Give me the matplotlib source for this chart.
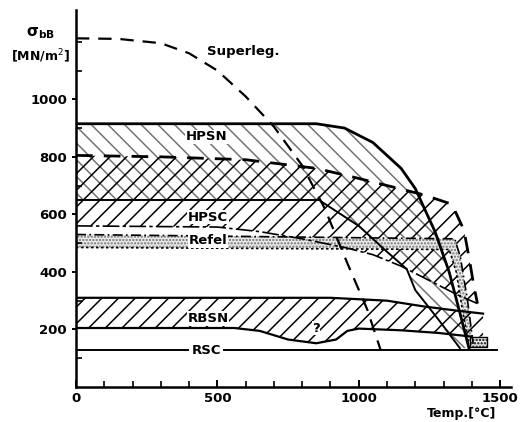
import numpy as np
import matplotlib.pyplot as plt

plt.rcParams["font.family"] = ["DejaVu Sans"]
plt.rcParams["hatch.linewidth"] = 1.1

# temperature [°C] / strength [MN/m2]
superleg_t = [0, 150, 300, 400, 500, 600, 700, 800, 880, 960, 1030, 1077]
superleg_s = [1212, 1210, 1195, 1160, 1100, 1010, 905, 770, 620, 430, 270, 130]

hpsn_top_t = [0, 850, 950, 1050, 1150, 1200, 1270, 1320, 1360, 1390]
hpsn_top_s = [915, 915, 900, 850, 760, 690, 540, 400, 250, 135]
hpsn_low_t = [0, 860, 875, 1000, 1100, 1170, 1200, 1280, 1358]
hpsn_low_s = [650, 650, 640, 560, 470, 410, 337, 237, 135]

hpsc_top_t = [0, 300, 600, 850, 1000, 1230, 1330, 1372, 1390, 1405, 1420]
hpsc_top_s = [805, 800, 790, 760, 725, 668, 635, 546, 452, 365, 290]
hpsc_low_t = [0, 500, 650, 800, 950, 1050, 1150, 1250, 1350, 1420]
hpsc_low_s = [560, 556, 540, 515, 485, 460, 420, 370, 320, 290]

refel_top_t = [0, 1340, 1360, 1385, 1405]
refel_top_s = [530, 515, 450, 300, 150]
refel_low_t = [0, 1320, 1345, 1370, 1390]
refel_low_s = [485, 478, 400, 250, 150]
refel_box_t = [1393, 1453]
refel_box_s = [139, 172]

rbsn_top_t = [0, 900, 1100, 1230, 1350, 1440]
rbsn_top_s = [310, 310, 300, 280, 265, 255]
rbsn_low_t = [0, 560, 650, 750, 850, 920, 960, 1000, 1150, 1280, 1400]
rbsn_low_s = [205, 205, 195, 165, 152, 165, 195, 203, 197, 188, 175]

rsc_t = [0, 1490]
rsc_s = [127, 127]


def band(t_top, s_top, t_low, s_low, n=300):
    t = np.linspace(min(t_top[0], t_low[0]), max(t_top[-1], t_low[-1]), n)
    top = np.interp(t, t_top, s_top)
    low = np.interp(t, t_low, s_low)
    return t, np.maximum(top, low), low


fig = plt.figure(figsize=(5.22, 4.22), dpi=100)
ax = fig.add_axes([0.1456, 0.083, 0.834, 0.893])

# HPSN band
t, top, low = band(hpsn_top_t, hpsn_top_s, hpsn_low_t, hpsn_low_s)
ax.fill_between(t, low, top, facecolor="none", edgecolor="0.45", hatch="\\\\", lw=0.001)
ax.plot(hpsn_top_t, hpsn_top_s, color="k", lw=2)
ax.plot(hpsn_low_t, hpsn_low_s, color="k", lw=1.4)

# HPSC band
t, top, low = band(hpsc_top_t, hpsc_top_s, hpsc_low_t, hpsc_low_s)
ax.fill_between(t, low, top, facecolor="none", edgecolor="k", hatch="//", lw=0.001)
ax.plot(hpsc_top_t, hpsc_top_s, color="k", lw=2, ls=(0, (6, 4)))
ax.plot(hpsc_low_t, hpsc_low_s, color="k", lw=1.2, ls=(0, (10, 2, 2, 2)))

# Refel band
poly_t = refel_top_t + refel_low_t[::-1]
poly_s = refel_top_s + refel_low_s[::-1]
ax.fill(poly_t, poly_s, facecolor="0.92", edgecolor="0.45", hatch=".....", lw=0.001)
ax.plot(refel_top_t, refel_top_s, color="k", lw=1.2, ls=(0, (6, 2, 1, 2)))
ax.plot(refel_low_t, refel_low_s, color="k", lw=1.2, ls=(0, (1.5, 1.5)))
ax.fill_between(refel_box_t, refel_box_s[0], refel_box_s[1], facecolor="0.92",
                edgecolor="k", hatch=".....", lw=1)

# RBSN band
t, top, low = band(rbsn_top_t, rbsn_top_s, rbsn_low_t, rbsn_low_s)
ax.fill_between(t, low, top, facecolor="none", edgecolor="k", hatch="//", lw=0.001)
ax.plot(rbsn_top_t, rbsn_top_s, color="k", lw=1.6)
ax.plot(rbsn_low_t, rbsn_low_s, color="k", lw=1.6)

# RSC
ax.plot(rsc_t, rsc_s, color="k", lw=1.4)

# Superlegierungen
ax.plot(superleg_t, superleg_s, color="k", lw=1.6, ls=(0, (6, 4)))

lab = dict(fontsize=9.5, fontweight="bold", va="center", ha="center")
ax.text(590, 1165, "Superleg.", bbox=dict(fc="white", ec="none", pad=1), **lab)
ax.text(463, 870, "HPSN", bbox=dict(fc="white", ec="none", pad=0.5), **lab)
ax.text(467, 590, "HPSC", bbox=dict(fc="white", ec="none", pad=0.5), **lab)
ax.text(467, 508, "Refel", bbox=dict(fc="white", ec="none", pad=0.5), **lab)
ax.text(467, 238, "RBSN", bbox=dict(fc="white", ec="none", pad=0.5), **lab)
ax.text(460, 127, "RSC", bbox=dict(fc="white", ec="none", pad=1.5), **lab)
ax.text(849, 205, "?", bbox=dict(fc="white", ec="none", pad=0.3), **lab)

ax.text(-126, 1230, r"$\mathbf{\sigma_{bB}}$", fontsize=11, ha="center", va="center",
        clip_on=False)
ax.text(-126, 1150, "[MN/m$^2$]", fontsize=9, fontweight="bold", ha="center", va="center",
        clip_on=False)
ax.text(1365, -92, "Temp.[°C]", fontsize=9, fontweight="bold", ha="center", va="center",
        clip_on=False)

ax.set_xlim(0, 1540)
ax.set_ylim(0, 1310)
ax.set_xticks([0, 500, 1000, 1500])
ax.set_xticks(np.arange(100, 1500, 100), minor=True)
ax.set_yticks([200, 400, 600, 800, 1000])
ax.set_yticks(np.arange(100, 1300, 100), minor=True)
ax.tick_params(axis="both", which="major", labelsize=9.5, width=1.4, length=5)
ax.tick_params(axis="x", which="both", direction="in")
ax.tick_params(axis="y", which="major", direction="out", length=3)
ax.tick_params(axis="y", which="minor", direction="in", length=4, width=1.2)
ax.tick_params(axis="x", which="minor", length=4, width=1.2)
for lbl in ax.get_xticklabels() + ax.get_yticklabels():
    lbl.set_fontweight("bold")
for side in ["top", "right"]:
    ax.spines[side].set_visible(False)
for side in ["left", "bottom"]:
    ax.spines[side].set_linewidth(1.8)

fig.savefig("out.png", dpi=100)
